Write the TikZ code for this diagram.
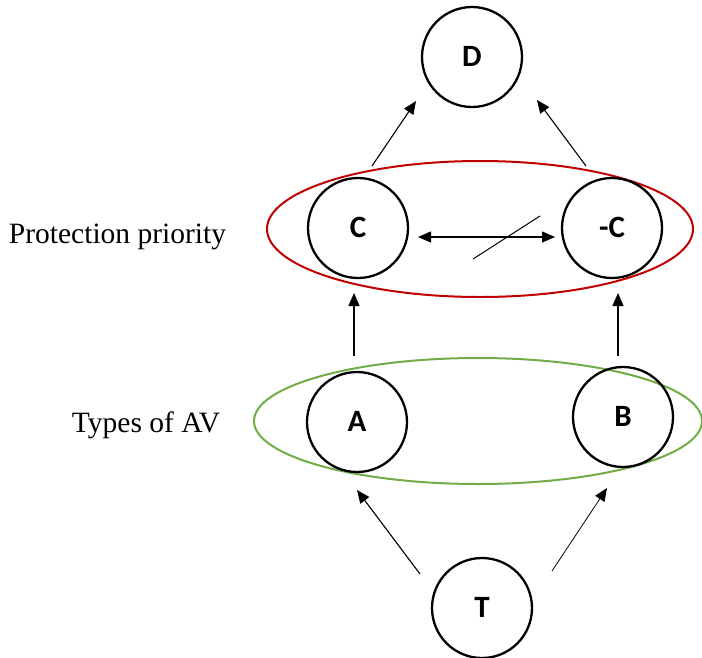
\documentclass[tikz,border=0pt]{standalone}
\usepackage{fontspec}
\setmainfont{Liberation Serif}
\newfontfamily\lettf{Carlito}
\usetikzlibrary{arrows.meta,shapes.geometric}
\definecolor{redring}{RGB}{192,0,0}
\definecolor{greenring}{RGB}{112,173,71}
\begin{document}
\begin{tikzpicture}[x=1pt,y=-1pt,
  circ/.style={circle,draw,line width=2.3pt,minimum size=100pt,inner sep=0pt,
    font=\lettf\bfseries\fontsize{31}{31}\selectfont},
  ring/.style={ellipse,draw,line width=2pt,inner sep=0pt},
  arr/.style={line width=1.1pt,-{Triangle[length=13pt,width=11pt]}},
  darr/.style={line width=1.1pt,{Triangle[length=13pt,width=11pt]}-{Triangle[length=13pt,width=11pt]}},
  lbl/.style={anchor=base,font=\fontsize{29.5}{31}\selectfont,inner sep=0pt}]
\useasboundingbox (0,0) rectangle (702,657);

% grouping ellipses
\node[ring,draw=redring,minimum width=426pt,minimum height=136pt] (pp) at (480,229) {};
\node[ring,draw=greenring,minimum width=448pt,minimum height=126pt] (av) at (478,421) {};

% nodes
\node[circ] (D) at (472,57) {\raisebox{2pt}{D}};
\node[circ] (C) at (358,228) {\raisebox{2pt}{C}};
\node[circ] (nC) at (612,228) {\raisebox{2pt}{-C}};
\node[circ] (A) at (357,422) {\raisebox{2pt}{A}};
\node[circ] (B) at (623,417) {\raisebox{2pt}{B}};
\node[circ] (T) at (482,608) {\raisebox{2pt}{T}};

% side labels
\node[lbl] (lp) at (117.5,243) {Protection priority};
\node[lbl] (la) at (146,432) {Types of AV};

% connector end points
\coordinate (cd1) at (372,166);
\coordinate (cd2) at (416,101);
\coordinate (nd1) at (586,166);
\coordinate (nd2) at (537,100);
\coordinate (cc1) at (418,237);
\coordinate (cc2) at (555,237);
\coordinate (s1) at (473,259);
\coordinate (s2) at (540,216);
\coordinate (ac1) at (354,356);
\coordinate (ac2) at (354,293);
\coordinate (bc1) at (618,356);
\coordinate (bc2) at (618,293);
\coordinate (ta1) at (420,574);
\coordinate (ta2) at (357,490);
\coordinate (tb1) at (552,571);
\coordinate (tb2) at (607,488);

\draw[arr] (cd1) -- (cd2);
\draw[arr] (nd1) -- (nd2);
\draw[darr] (cc1) -- (cc2);
\draw[line width=1pt] (s1) -- (s2);
\draw[arr] (ac1) -- (ac2);
\draw[arr] (bc1) -- (bc2);
\draw[arr] (ta1) -- (ta2);
\draw[arr,line width=0.8pt] (tb1) -- (tb2);
\end{tikzpicture}
\end{document}
